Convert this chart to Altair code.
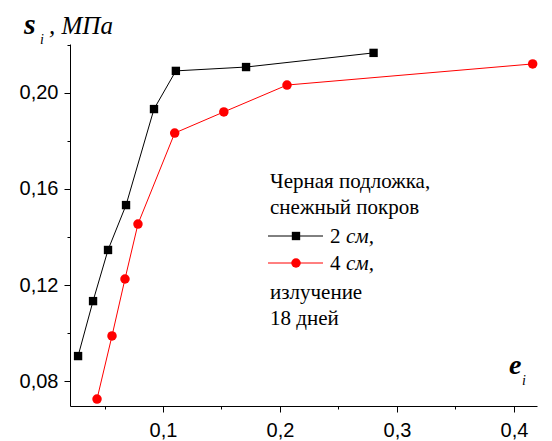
import altair as alt
import pandas as pd

# Data
black_x = [0.0274, 0.0402, 0.0530, 0.0684, 0.0923, 0.1110, 0.1710, 0.2800]
black_y = [0.0904, 0.1133, 0.1346, 0.1533, 0.1933, 0.2092, 0.2108, 0.2167]
red_x = [0.0436, 0.0564, 0.0675, 0.0786, 0.1100, 0.1520, 0.2060, 0.4160]
red_y = [0.0725, 0.0988, 0.1225, 0.1454, 0.1833, 0.1921, 0.2033, 0.2121]

x_ticks = [0.05, 0.1, 0.15, 0.2, 0.25, 0.3, 0.35, 0.4]
y_ticks = [0.08, 0.10, 0.12, 0.14, 0.16, 0.18, 0.20, 0.22]

legend_lines = ["Черная подложка,", "снежный покров", "излучение", "18 дней"]

PAD_L, PAD_T = 70, 44
W, H = 467, 362
SERIF = "Liberation Serif"
SANS = "Liberation Sans"

black = pd.DataFrame({"x": black_x, "y": black_y, "s": "2 см"})
red = pd.DataFrame({"x": red_x, "y": red_y, "s": "4 см"})

xmaj = "abs(datum.value*10 - round(datum.value*10)) < 0.001"
ymaj = "round(datum.value*100) % 4 == 0"

xscale = alt.Scale(domain=[0.0205, 0.4197], nice=False, zero=False)
yscale = alt.Scale(domain=[0.0696, 0.2204], nice=False, zero=False)

xaxis = alt.Axis(
    values=x_ticks, title=None, grid=False,
    labelExpr=f"({xmaj}) ? replace(format(datum.value, '.1f'), '.', ',') : ''",
    tickSize={"condition": {"test": xmaj, "value": 6}, "value": 3},
    labelFont=SANS, labelFontSize=20, labelColor="black",
    labelPadding=8, domainColor="black", tickColor="black",
    labelFlush=False,
)
yaxis = alt.Axis(
    values=y_ticks, title=None, grid=False,
    labelExpr=f"({ymaj}) ? replace(format(datum.value, '.2f'), '.', ',') : ''",
    tickSize={"condition": {"test": ymaj, "value": 6}, "value": 3},
    labelFont=SANS, labelFontSize=20, labelColor="black",
    labelPadding=6, domainColor="black", tickColor="black",
    labelFlush=False,
)


def series(df, color, shape, size):
    base = alt.Chart(df).encode(
        x=alt.X("x:Q", scale=xscale, axis=xaxis),
        y=alt.Y("y:Q", scale=yscale, axis=yaxis),
    )
    line = base.mark_line(color=color, strokeWidth=1)
    pts = base.mark_point(color=color, fill=color, filled=True, shape=shape,
                          size=size, opacity=1)
    return line + pts


one = pd.DataFrame({"a": [0]})


def text(t, ax, ay, size, style=None, weight=None):
    kw = dict(text=t, font=SERIF, fontSize=size, align="left",
              baseline="alphabetic", color="black")
    if style:
        kw["fontStyle"] = style
    if weight:
        kw["fontWeight"] = weight
    return alt.Chart(one).mark_text(**kw).encode(
        x=alt.value(ax - PAD_L), y=alt.value(ay - PAD_T))


def leg_line(y, color):
    return alt.Chart(one).mark_rule(color=color, strokeWidth=1).encode(
        x=alt.value(268 - PAD_L), x2=alt.value(323 - PAD_L), y=alt.value(y - PAD_T))


def leg_pt(y, color, shape, size):
    return alt.Chart(one).mark_point(color=color, fill=color, filled=True,
                                     shape=shape, size=size, opacity=1).encode(
        x=alt.value(296 - PAD_L), y=alt.value(y - PAD_T))


LF = 21
layers = [
    series(black, "black", "square", 70),
    series(red, "#ff0000", "circle", 90),
    # axis titles
    text("s", 24, 34, 30, style="italic", weight="bold"),
    text("i", 40, 44, 14, style="italic"),
    text(", МПа", 49, 34, 25, style="italic"),
    text("e", 509, 374, 28, style="italic", weight="bold"),
    text("i", 522, 385, 14, style="italic"),
    # legend
    text(legend_lines[0], 270, 188, LF),
    text(legend_lines[1], 270, 214, LF),
    leg_line(236, "black"), leg_pt(236, "black", "square", 70),
    text("2", 330, 243, LF), text("см,", 346, 243, LF, style="italic"),
    leg_line(263, "#ff0000"), leg_pt(263, "#ff0000", "circle", 90),
    text("4", 330, 270, LF), text("см,", 346, 270, LF, style="italic"),
    text(legend_lines[2], 270, 299, LF),
    text(legend_lines[3], 270, 325, LF),
]

chart = alt.layer(*layers).properties(
    width=W, height=H,
    autosize=alt.AutoSizeParams(type="none"),
    padding={"left": PAD_L, "top": PAD_T, "right": 552 - PAD_L - W, "bottom": 441 - PAD_T - H},
    background="white",
).configure_view(stroke=None)

chart.save("out.html", embed_options={"renderer": "svg", "actions": False})
